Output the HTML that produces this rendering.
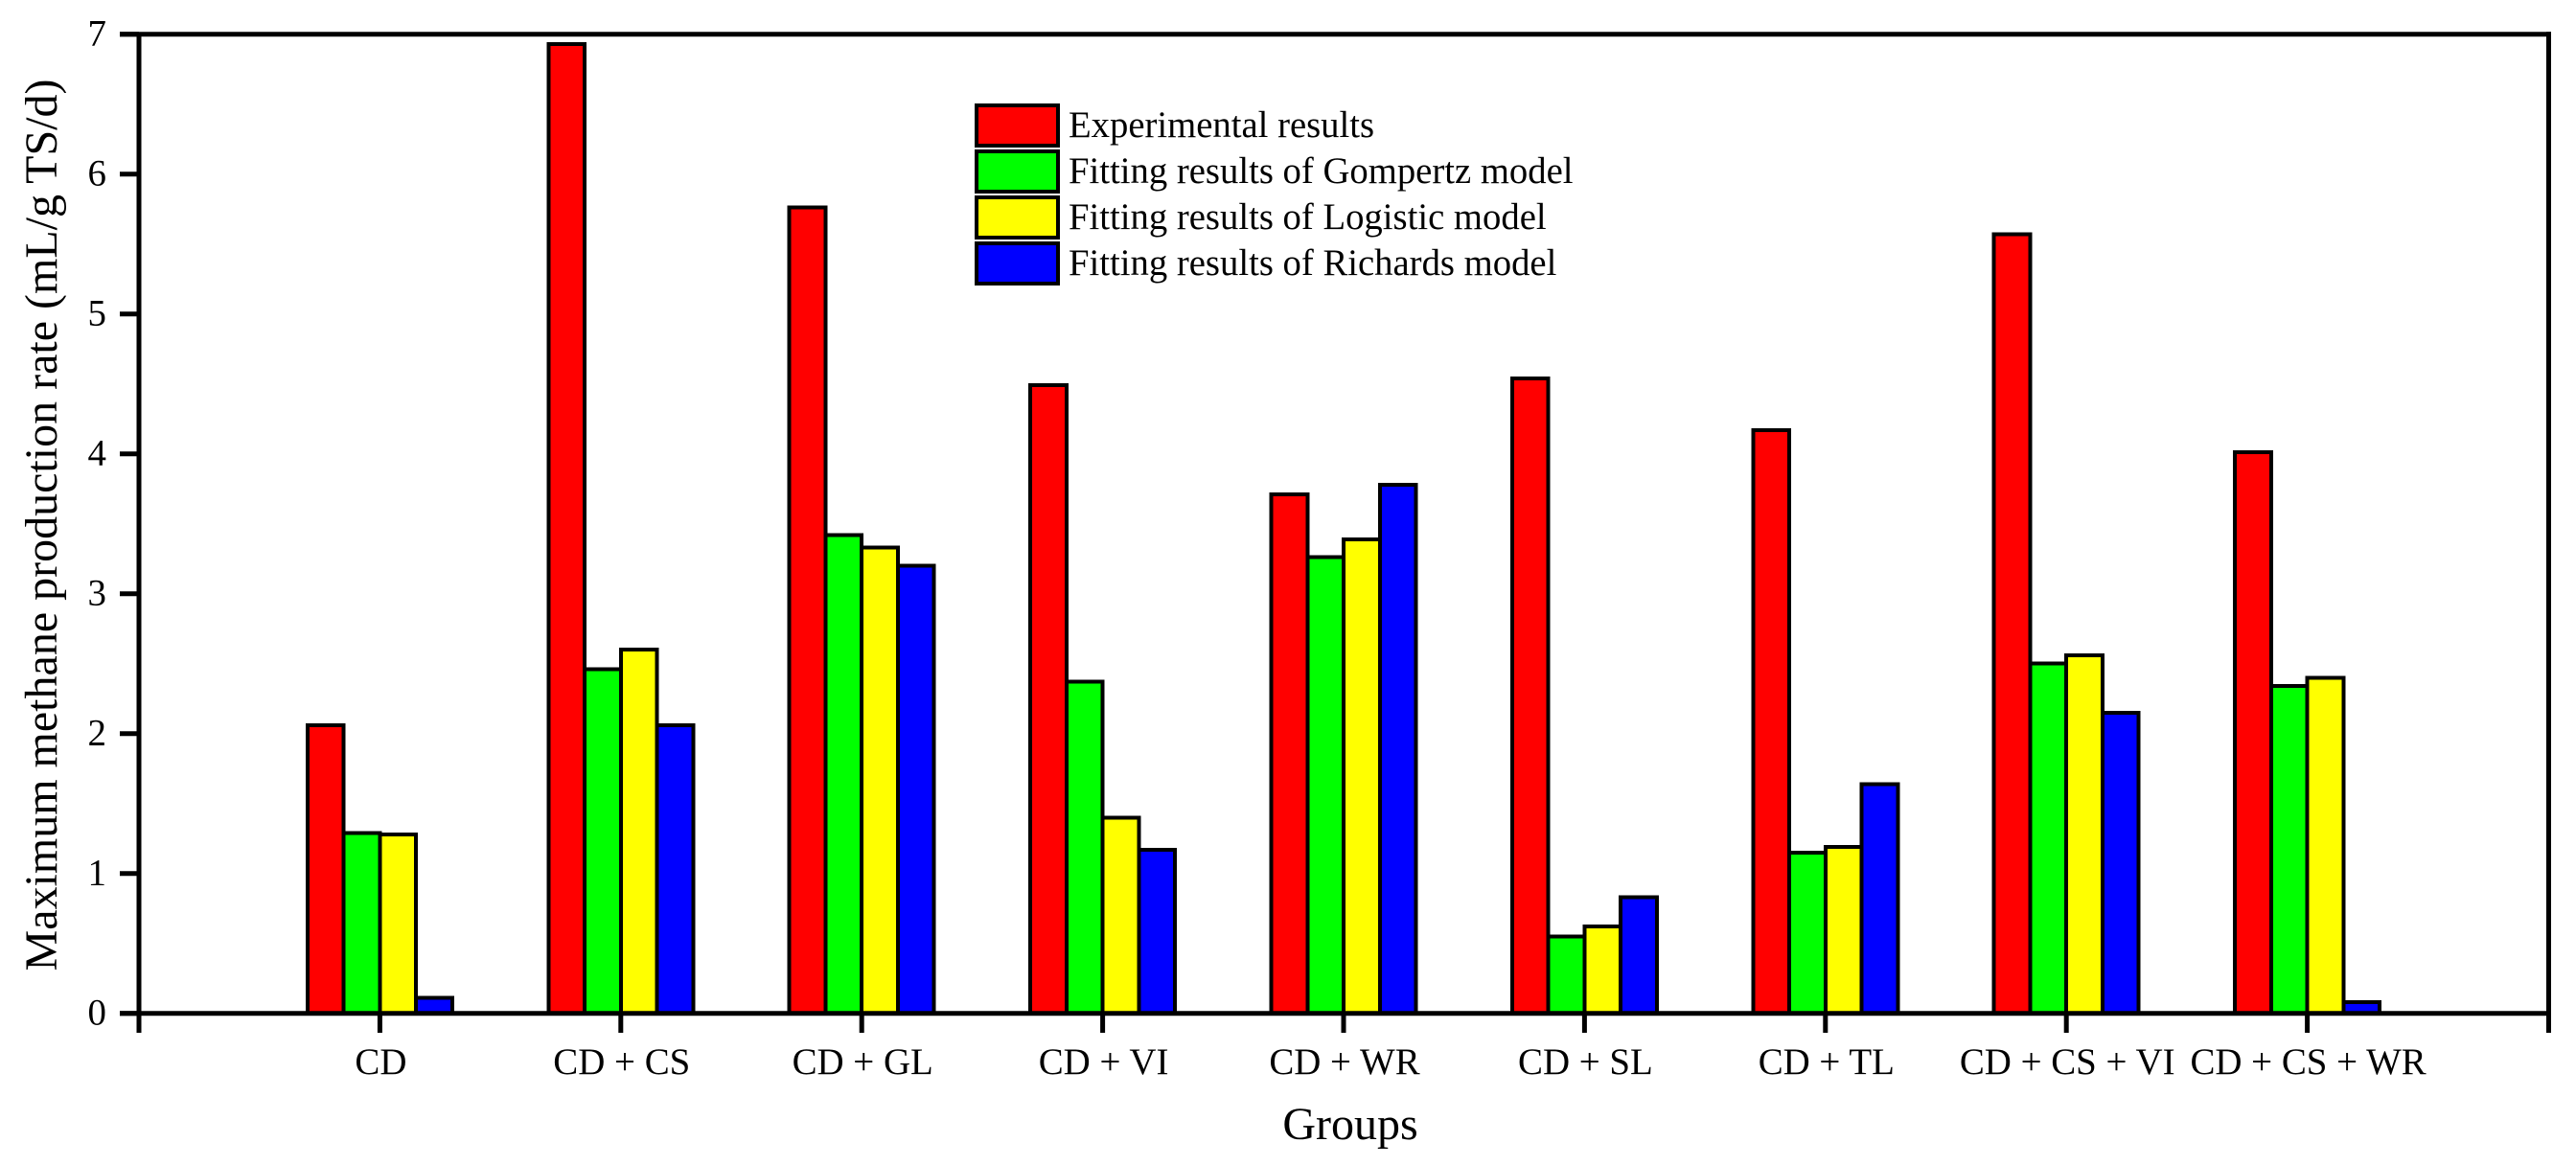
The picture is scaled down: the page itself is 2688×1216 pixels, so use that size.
<!DOCTYPE html>
<html lang="en">
<head>
<meta charset="utf-8">
<title>Maximum methane production rate</title>
<style>
html,body{margin:0;padding:0;background:#fff;}
svg{display:block;}
text{font-family:"Liberation Serif",serif;fill:#000;}
</style>
</head>
<body>
<svg id="chart" xmlns="http://www.w3.org/2000/svg" width="2688" height="1216" viewBox="0 0 2688 1216">
  <rect x="0" y="0" width="2688" height="1216" fill="#fff"/>
  <g id="bars" shape-rendering="crispEdges"></g>
  <g id="axes"></g>
  <g id="legend"></g>
  <text x="1409" y="1189" font-size="48" text-anchor="middle">Groups</text>
  <text transform="translate(59,548) rotate(-90)" font-size="48" text-anchor="middle">Maximum methane production rate (mL/g TS/d)</text>
</svg>
<script>
const categories = ["CD", "CD + CS", "CD + GL", "CD + VI", "CD + WR", "CD + SL", "CD + TL", "CD + CS + VI", "CD + CS + WR"];
const experimental = [2.06, 6.93, 5.76, 4.49, 3.71, 4.54, 4.17, 5.57, 4.01];
const gompertz = [1.29, 2.46, 3.42, 2.37, 3.26, 0.55, 1.15, 2.50, 2.34];
const logistic = [1.28, 2.60, 3.33, 1.40, 3.39, 0.62, 1.19, 2.56, 2.40];
const richards = [0.11, 2.06, 3.20, 1.17, 3.78, 0.83, 1.64, 2.15, 0.08];
const yTickLabels = [0, 1, 2, 3, 4, 5, 6, 7];
const seriesNames = ["Experimental results", "Fitting results of Gompertz model", "Fitting results of Logistic model", "Fitting results of Richards model"];
const seriesColors = ["#ff0000", "#00ff00", "#ffff00", "#0000ff"];
const seriesValues = [experimental, gompertz, logistic, richards];

const NS = "http://www.w3.org/2000/svg";
function xScale(i) { return 145 + 251.4 * (i + 1); }
function yScale(v) { return 1057.7 - 146 * v; }
function make(tag, attrs, parent) {
  const el = document.createElementNS(NS, tag);
  for (const k in attrs) el.setAttribute(k, attrs[k]);
  parent.appendChild(el);
  return el;
}

const barsGroup = document.getElementById("bars");
const axesGroup = document.getElementById("axes");
const legendGroup = document.getElementById("legend");
const barWidth = 37.75;

categories.forEach(function (cat, c) {
  seriesValues.forEach(function (vals, s) {
    const top = yScale(vals[c]);
    const left = xScale(c) - 2 * barWidth + s * barWidth;
    const bar = make("rect", { x: left, y: top, width: barWidth, height: yScale(0) - top, fill: seriesColors[s], stroke: "#000", "stroke-width": 4 }, barsGroup);
    
    
  });
});

const axisLines = [
  [125, yScale(7), 2662, yScale(7)],
  [125, yScale(0), 2662, yScale(0)],
  [145, yScale(7), 145, 1078],
  [2659.5, yScale(7) - 2.5, 2659.5, 1078]
];
axisLines.forEach(function (p) {
  const line = make("line", { x1: p[0], y1: p[1], x2: p[2], y2: p[3], stroke: "#000", "stroke-width": 5 }, axesGroup);
  
  
});

yTickLabels.forEach(function (t) {
  const tick = make("line", { x1: 125, y1: yScale(t), x2: 145, y2: yScale(t), stroke: "#000", "stroke-width": 5 }, axesGroup);
  
  
  const label = make("text", { x: 111, y: yScale(t) + 12, "font-size": 38.9, "text-anchor": "end" }, axesGroup);
  
  
  label.textContent = t;
});

categories.forEach(function (cat, c) {
  const tick = make("line", { x1: xScale(c), y1: yScale(0), x2: xScale(c), y2: 1078, stroke: "#000", "stroke-width": 5 }, axesGroup);
  
  
  const label = make("text", { x: xScale(c) + 1, y: 1121, "font-size": 38.9, "text-anchor": "middle" }, axesGroup);
  
  
  label.textContent = cat;
});

seriesNames.forEach(function (name, s) {
  const swatch = make("rect", { x: 1019, y: 110 + s * 48, width: 85, height: 42, fill: seriesColors[s], stroke: "#000", "stroke-width": 4 }, legendGroup);
  
  
  const label = make("text", { x: 1115, y: 143 + s * 48, "font-size": 38.7 }, legendGroup);
  
  
  label.textContent = name;
});
</script>
</body>
</html>
